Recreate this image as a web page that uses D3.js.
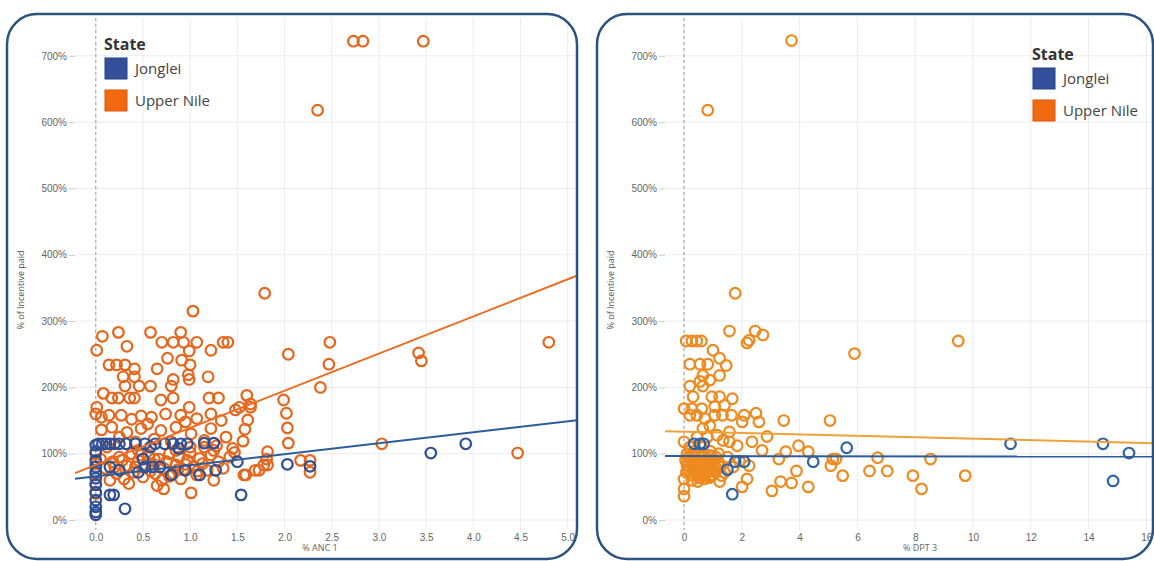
<!DOCTYPE html>
<html><head><meta charset="utf-8">
<script src="https://cdn.jsdelivr.net/npm/d3@7"></script>
<style>body{margin:0;background:#fff;}svg{display:block;font-family:"Open Sans",Lato,sans-serif;}</style>
</head><body><svg id="c" width="1154" height="561"></svg>
<script>
const states = ["Jonglei", "Upper Nile"];
const yTicks = [0, 100, 200, 300, 400, 500, 600, 700];
const ancTicks = [0, 0.5, 1, 1.5, 2, 2.5, 3, 3.5, 4, 4.5, 5];
const dptTicks = [0, 2, 4, 6, 8, 10, 12, 14, 16];

// [% ANC 1, % incentive paid]
const ancUpperNile = [[2.73,722],[2.83,722],[3.47,722],[2.35,618],[1.79,342],[1.03,315],[2.48,268],[2.47,235],[2.04,250],[2.38,200],[3.42,252],[3.45,240],[4.8,268],[4.47,101],[3.03,115],[2.27,90],[2.27,72],[2.17,90],[1.99,181],[2.02,161],[2.04,116],[2.03,139],[1.6,188],[1.64,175],[1.58,137],[1.61,151],[1.48,166],[1.56,119],[1.57,68],[1.69,75],[1.78,83],[1.81,92],
[0.07,277],[0.24,283],[0.58,283],[0.9,283],[0.33,262],[0.01,256],[0.7,268],[0.82,268],[0.93,268],[1.07,268],[0.99,255],[1.22,256],[1.35,268],[1.4,268],[0.76,244],[0.91,241],[1.0,234],[0.65,228],[0.14,234],[0.22,234],[0.31,234],[0.41,228],[0.29,216],[0.41,216],[0.82,212],[0.98,219],[0.99,212],[1.19,216],[0.31,202],[0.46,202],[0.58,202],[0.8,202],[0.08,191],[0.17,184],[0.24,184],[0.36,184],[0.41,184],[0.69,181],[0.82,184],[1.2,184],[1.3,184],[0.01,170],[0.99,170],[1.52,170],[1.64,170],
[0.0,160],[0.06,155],[0.14,158],[0.27,158],[0.38,152],[0.48,157],[0.59,155],[0.74,160],[0.9,158],[1.07,153],[1.22,160],[1.33,150],[0.06,136],[0.17,140],[0.33,132],[0.48,138],[0.69,135],[0.85,140],[1.01,130],[1.22,138],[1.38,125],[0.55,145],[0.95,148],[1.15,120],[0.25,125],[0.62,122],[0.8,118],[1.28,112],[1.45,108],[0.42,118],[0.12,110],[1.0,110],
[0.0,100],[0.0,85],[0.0,70],[0.0,55],[0.0,40],[0.05,92],[0.1,78],[0.18,88],[0.22,70],[0.25,95],[0.3,62],[0.33,82],[0.38,100],[0.4,72],[0.45,90],[0.5,65],[0.52,80],[0.56,98],[0.6,85],[0.63,70],[0.67,92],[0.7,60],[0.72,78],[0.75,88],[0.78,100],[0.82,70],[0.85,83],[0.88,95],[0.9,62],[0.93,76],[0.97,90],[1.0,102],[1.03,80],[1.07,68],[1.1,93],[1.13,85],[1.18,75],[1.22,98],[1.25,60],[1.3,88],[1.35,78],[1.42,95],[1.47,102],[0.72,47],[1.01,41],[1.59,68],[1.73,75],[1.82,83],[1.82,103],[0.35,55],[0.65,52],[0.15,60],[0.45,105],[0.85,105],[1.25,105],[1.15,110],
[0.28,90],[0.42,80],[0.58,74],[0.62,92],[0.78,66],[0.95,84],[1.08,74],[0.48,98],[0.2,80],[0.87,76]];
const ancJonglei = [[0,113],[0,103],[0,90],[0,80],[0,72],[0,63],[0,53],[0,42],[0,30],[0,20],[0,12],[0,8],
[0.03,115],[0.07,115],[0.11,115],[0.15,115],[0.2,115],[0.25,115],[0.32,115],[0.42,115],[0.52,115],[0.63,115],[0.73,115],[0.82,115],[0.9,115],[0.97,115],[1.15,116],[1.25,116],[0.58,110],
[0.15,80],[0.45,72],[0.52,80],[0.6,80],[0.68,80],[0.8,68],[1.1,68],[1.27,75],[0.25,75],[0.95,75],[0.15,38],[0.19,38],[0.31,17],[1.54,38],[2.03,84],[2.27,81],[3.55,101],[3.92,115],[1.5,88],[0.88,108],[0.5,92]];

// [% DPT 3, % incentive paid]
const dptUpperNile = [[3.72,723],[0.82,618],[1.77,342],[5.9,251],[9.49,270],[2.18,267],[2.25,271],[2.46,285],[2.73,279],[1.57,285],
[0.07,270],[0.27,270],[0.44,270],[0.6,270],[1.0,256],[1.23,244],[1.46,233],[0.2,235],[0.55,235],[0.82,235],[0.65,218],[1.23,218],[0.55,209],[0.89,211],[0.2,202],[0.31,186],[0.65,202],[0.96,186],[1.23,186],[1.67,183],[0,168],[0.27,168],[0.61,168],[1.06,171],[1.4,173],[0.2,158],[0.44,158],[0.72,153],[1.06,158],[1.33,158],[1.64,158],[2.08,158],[2.49,161],[2.59,148],[2.01,148],[3.45,150],[5.05,150],[0.65,138],[0.89,142],[1.57,133],[0,118],[1.57,118],[1.84,112],[2.35,118],[2.87,126],[2.7,105],[3.52,103],[3.96,112],[4.3,103],[5.15,92],[5.08,82],[5.49,67],[3.89,74],[3.72,56],[4.3,50],[3.34,58],[3.04,44],[2.18,62],[2.01,50],[3.28,92],[2.25,82],[1.91,89],[1.3,67],[1.23,58],[0,62],[0,47],[0,36],[6.7,94],[6.42,74],[7.03,74],[7.92,67],[8.22,47],[8.53,92],[9.73,67],[5.26,92],
[0.1,100],[0.2,92],[0.3,85],[0.4,78],[0.5,72],[0.6,95],[0.7,88],[0.8,80],[0.9,74],[1.0,68],[0.15,75],[0.25,68],[0.35,95],[0.45,88],[0.55,82],[0.65,76],[0.75,70],[0.85,98],[0.95,90],[1.05,84],[0.1,82],[0.3,100],[0.5,64],[0.7,62],[0.4,105],[0.6,110],[0.9,104],[1.1,95],[1.1,78],[0.2,110],[0.05,90],[1.2,100],[1.35,120],[1.15,128],[0.45,125],[1.5,95],[1.7,80],[0.8,125],
[0.12,88],[0.22,80],[0.32,74],[0.42,68],[0.52,90],[0.62,84],[0.72,78],[0.82,72],[0.92,66],[0.18,96],[0.28,90],[0.38,84],[0.48,78],[0.58,70],[0.68,100],[0.78,92],[0.88,86],[0.98,78],[1.08,72],[0.33,78],[0.53,98],[0.73,82],[0.93,96],[1.03,92],[1.18,86],[0.08,72],[0.27,60],[0.47,58],[0.67,66],[0.87,64],[1.25,80],[1.4,72]];
const dptJonglei = [[11.3,115],[14.5,115],[15.4,101],[14.85,59],[5.63,109],[4.47,88],[2.08,88],[1.77,88],[1.5,76],[1.67,39],[0.35,115],[0.55,115],[0.68,115]];

// trend lines: [intercept, slope]
const ancTrendUpperNile = [83, 56];
const ancTrendJonglei = [66, 16.6];
const dptTrendUpperNile = [133.3, -1.07];
const dptTrendJonglei = [96.5, -0.05];

const svg = d3.select("#c");
const defs = svg.append("defs");
const fmtPct = d => d + "%";

function panel(cfg) {
  const id = "clip" + cfg.id;
  defs.append("clipPath").attr("id", id).append("rect")
    .attr("x", cfg.box[0]).attr("y", cfg.box[1]).attr("width", cfg.box[2]).attr("height", cfg.box[3]).attr("rx", 30);
  const g = svg.append("g");
  const x = d3.scaleLinear().domain(cfg.xDomain).range(cfg.xRange);
  const y = d3.scaleLinear().domain([-15, 757]).range([530, 18]);
  const body = g.append("g").attr("clip-path", `url(#${id})`);
  // grid
  body.append("g").selectAll("line").data(cfg.xTicks).join("line")
    .attr("x1", d => x(d)).attr("x2", d => x(d)).attr("y1", 18).attr("y2", 530)
    .attr("stroke", "#ececec").attr("stroke-width", 1);
  body.append("g").selectAll("line").data(yTicks).join("line")
    .attr("x1", cfg.xRange[0]).attr("x2", cfg.box[0] + cfg.box[2]).attr("y1", d => y(d)).attr("y2", d => y(d))
    .attr("stroke", "#ececec").attr("stroke-width", 1);
  body.append("line").attr("x1", x(0)).attr("x2", x(0)).attr("y1", 18).attr("y2", 530)
    .attr("stroke", "#aaa").attr("stroke-width", 1.2).attr("stroke-dasharray", "3,3");
  // y axis
  const ya = d3.axisLeft(y).tickValues(yTicks).tickFormat(fmtPct).tickSize(6).tickPadding(2);
  const yg = g.append("g").attr("transform", `translate(${cfg.xRange[0]},0)`).call(ya);
  yg.select(".domain").remove();
  yg.selectAll("line").attr("stroke", "#ccc");
  yg.selectAll("text").attr("fill", "#666").style("font-size", "10px");
  // x axis
  const xa = d3.axisBottom(x).tickValues(cfg.xTicks).tickFormat(cfg.xFmt).tickSize(0).tickPadding(6);
  const xouter = g.append("g");
  if (cfg.clipX) xouter.attr("clip-path", `url(#${id})`);
  const xg = xouter.append("g").attr("transform", "translate(0,528)").call(xa);
  xg.select(".domain").remove();
  xg.selectAll("text").attr("fill", "#666").style("font-size", "10px");
  g.append("text").attr("x", cfg.xTitleX).attr("y", 551).attr("text-anchor", "middle")
    .attr("fill", "#666").style("font-size", "9px").text(cfg.xTitle);
  g.append("text").attr("transform", `translate(${cfg.yTitleX},290) rotate(-90)`).attr("text-anchor", "middle")
    .attr("fill", "#555").style("font-size", "9px").text("% of Incentive paid");
  // points
  const pts = body.append("g");
  pts.selectAll("circle.o").data(cfg.orange).join("circle").attr("class", "o")
    .attr("cx", d => x(d[0])).attr("cy", d => y(d[1])).attr("r", 5.3)
    .attr("fill", "none").attr("stroke", cfg.orangeColor).attr("stroke-width", 2.2);
  pts.selectAll("circle.b").data(cfg.blue).join("circle").attr("class", "b")
    .attr("cx", d => x(d[0])).attr("cy", d => y(d[1])).attr("r", 5.3)
    .attr("fill", "none").attr("stroke", cfg.blueColor).attr("stroke-width", 2.2);
  // trend lines
  const xs = [cfg.lineStart, x.domain()[1]];
  const line = d3.line().x(d => x(d[0])).y(d => y(d[1]));
  body.append("path").datum(xs.map(v => [v, cfg.trendO[0] + cfg.trendO[1] * v]))
    .attr("d", line).attr("stroke", cfg.lineOrange).attr("stroke-width", 2).attr("fill", "none");
  body.append("path").datum(xs.map(v => [v, cfg.trendB[0] + cfg.trendB[1] * v]))
    .attr("d", line).attr("stroke", "#2e5c9a").attr("stroke-width", 2).attr("fill", "none");
  // border
  g.append("rect").attr("x", cfg.box[0]).attr("y", cfg.box[1]).attr("width", cfg.box[2]).attr("height", cfg.box[3])
    .attr("rx", 30).attr("fill", "none").attr("stroke", "#2b537e").attr("stroke-width", 2.5);
  // legend
  const lg = g.append("g").attr("transform", `translate(${cfg.legend[0]},${cfg.legend[1]})`);
  lg.append("text").attr("x", 0).attr("y", 0).attr("fill", "#333").style("font-size", "16px").style("font-weight", "bold").text("State");
  const colors = ["#34509b", "#f2680f"];
  const strokes = ["#26407f", "#d9560a"];
  states.forEach((s, i) => {
    lg.append("rect").attr("x", 1).attr("y", 8 + i * 32).attr("width", 22).attr("height", 21)
      .attr("fill", colors[i]).attr("stroke", strokes[i]).attr("stroke-width", 1);
    lg.append("text").attr("x", 31).attr("y", 24 + i * 32).attr("fill", "#444").style("font-size", "15px").text(s);
  });
}

panel({ id: "a", box: [7, 14, 570, 545], xDomain: [-0.22, 5.3], xRange: [75, 596], clipX: true,
  xTicks: ancTicks, xFmt: d3.format(".1f"), xTitle: "% ANC 1", xTitleX: 320, yTitleX: 24,
  orange: ancUpperNile, blue: ancJonglei, orangeColor: "#e5671d", blueColor: "#2f4f94",
  trendO: ancTrendUpperNile, trendB: ancTrendJonglei, lineStart: -0.22, lineOrange: "#ee6a22",
  legend: [104, 50] });
panel({ id: "b", box: [597, 14, 556, 545], xDomain: [-0.66, 16.3], xRange: [665, 1155], clipX: false,
  xTicks: dptTicks, xFmt: d3.format("d"), xTitle: "% DPT 3", xTitleX: 920, yTitleX: 614,
  orange: dptUpperNile, blue: dptJonglei, orangeColor: "#ee8a1f", blueColor: "#3063a6",
  trendO: dptTrendUpperNile, trendB: dptTrendJonglei, lineStart: -0.66, lineOrange: "#efa23a",
  legend: [1032, 60] });
</script></body></html>
